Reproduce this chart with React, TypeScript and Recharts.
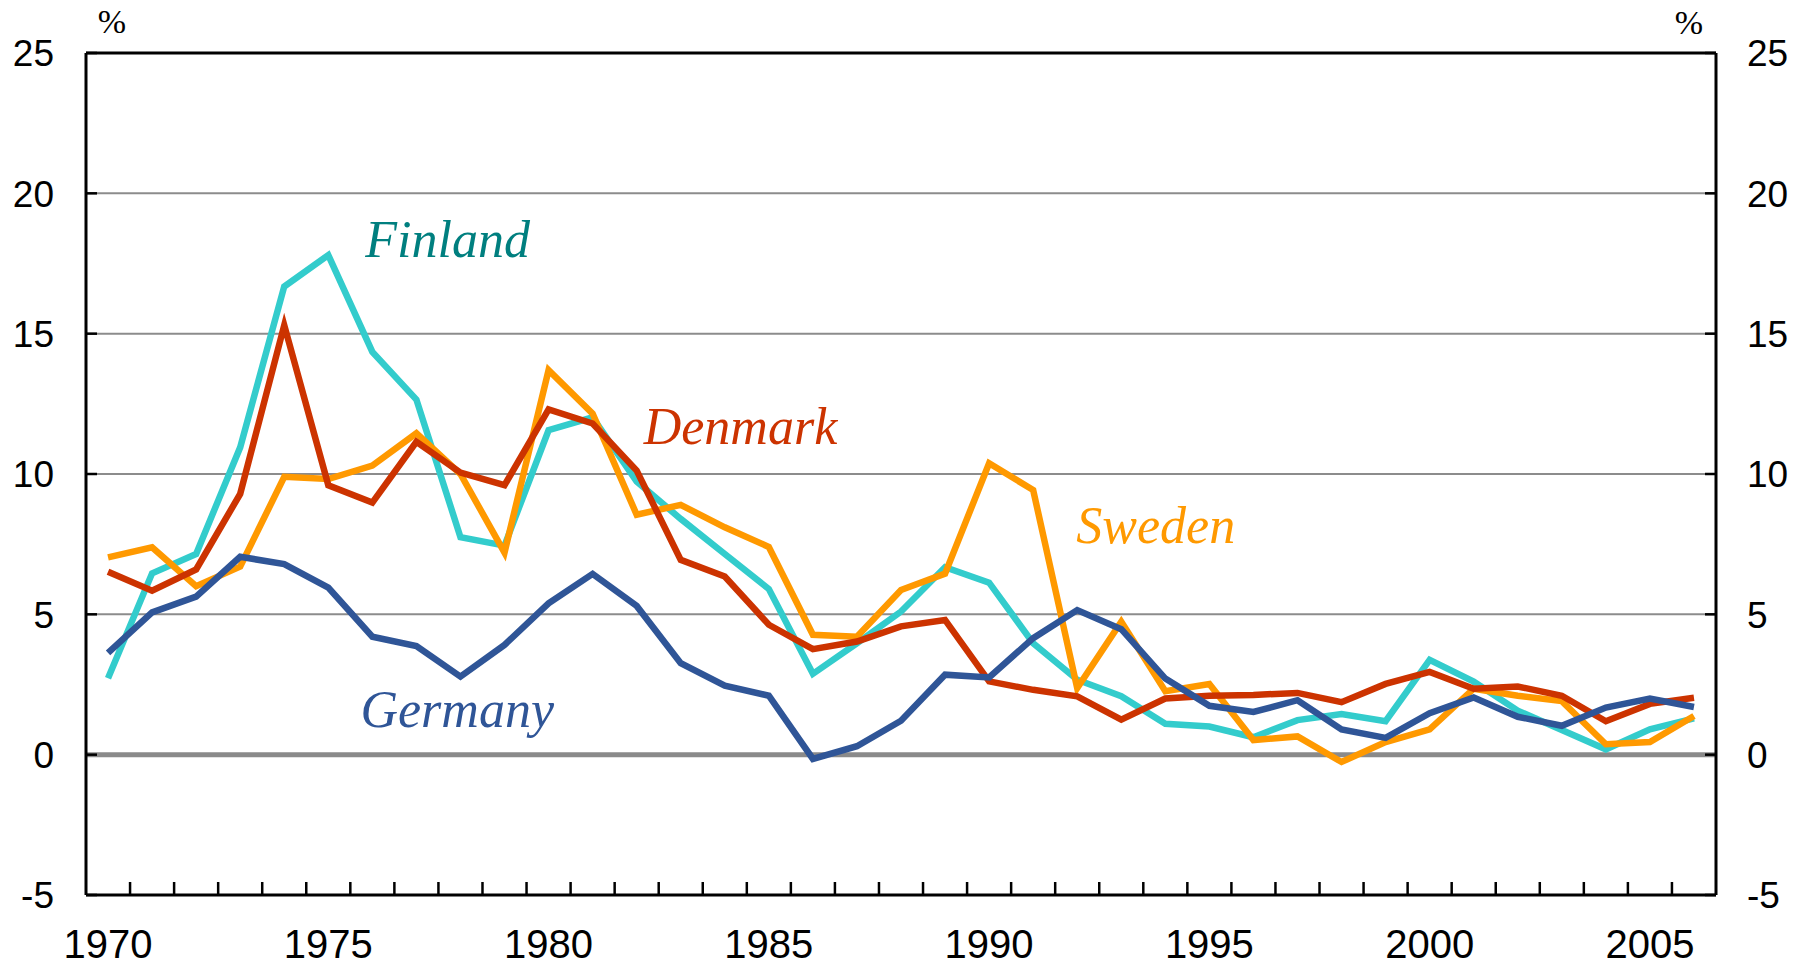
import React from 'react';
import {
  LineChart, Line, XAxis, YAxis, CartesianGrid, ReferenceLine, ReferenceDot
} from 'recharts';

// annual inflation, %
const years = [
  1970, 1971, 1972, 1973, 1974, 1975, 1976, 1977, 1978, 1979,
  1980, 1981, 1982, 1983, 1984, 1985, 1986, 1987, 1988, 1989,
  1990, 1991, 1992, 1993, 1994, 1995, 1996, 1997, 1998, 1999,
  2000, 2001, 2002, 2003, 2004, 2005, 2006,
];
const finland = [
  2.72, 6.46, 7.15, 10.95, 16.68, 17.8, 14.35, 12.65, 7.75, 7.45,
  11.56, 12.02, 9.73, 8.4, 7.15, 5.9, 2.88, 3.97, 5.1, 6.68,
  6.13, 3.97, 2.67, 2.08, 1.1, 1.0, 0.62, 1.23, 1.45, 1.19,
  3.38, 2.6, 1.57, 0.88, 0.19, 0.9, 1.29,
];
const denmark = [
  6.52, 5.84, 6.6, 9.29, 15.3, 9.6, 8.98, 11.15, 10.05, 9.6,
  12.3, 11.8, 10.12, 6.94, 6.35, 4.63, 3.76, 4.03, 4.57, 4.8,
  2.61, 2.31, 2.08, 1.25, 2.0, 2.1, 2.13, 2.2, 1.87, 2.52,
  2.95, 2.35, 2.43, 2.1, 1.19, 1.81, 2.03,
];
const sweden = [
  7.03, 7.39, 6.0, 6.7, 9.9, 9.82, 10.3, 11.45, 10.0, 7.2,
  13.7, 12.15, 8.55, 8.9, 8.1, 7.4, 4.27, 4.2, 5.87, 6.45,
  10.38, 9.43, 2.37, 4.74, 2.26, 2.52, 0.52, 0.65, -0.26, 0.45,
  0.9, 2.35, 2.1, 1.91, 0.37, 0.45, 1.38,
];
const germany = [
  3.63, 5.07, 5.63, 7.05, 6.79, 5.95, 4.2, 3.87, 2.78, 3.91,
  5.39, 6.44, 5.3, 3.26, 2.46, 2.1, -0.15, 0.3, 1.21, 2.85,
  2.75, 4.15, 5.15, 4.47, 2.71, 1.74, 1.52, 1.94, 0.9, 0.6,
  1.48, 2.04, 1.35, 1.03, 1.68, 2.0, 1.7,
];

const yTicks = [-5, 0, 5, 10, 15, 20, 25];
const yearLabels = [1970, 1975, 1980, 1985, 1990, 1995, 2000, 2005];

const data = years.map((year, i) => ({
  year,
  finland: finland[i],
  denmark: denmark[i],
  sweden: sweden[i],
  germany: germany[i],
}));

// tick marks sit between the years, labels on the years
const yearBounds = years.slice(0, -1).map(y => y + 0.5);
const xTicks = [...yearLabels, ...yearBounds].sort((a, b) => a - b);

const seriesLabels = [
  { name: 'Finland', year: 1975.84, value: 17.74, color: '#007f7f' },
  { name: 'Denmark', year: 1982.16, value: 11.07, color: '#cc3300' },
  { name: 'Sweden', year: 1991.98, value: 7.54, color: '#ff9900' },
  { name: 'Germany', year: 1975.73, value: 0.99, color: '#2f5597' },
];

const SANS = '"Liberation Sans", Arial, sans-serif';
const SERIF = '"Liberation Serif", "Times New Roman", serif';

const XTick = ({ x, y, payload }: any) => {
  if (Number.isInteger(payload.value)) {
    return (
      <text x={x} y={y + 63} textAnchor="middle" fontSize={40} fontFamily={SANS} fill="#000">
        {payload.value}
      </text>
    );
  }
  return <line x1={x} x2={x} y1={y} y2={y - 13} stroke="#000" strokeWidth={2.5} />;
};

const LeftTick = ({ x, y, payload }: any) => (
  <g>
    <line x1={x} x2={x + 11} y1={y} y2={y} stroke="#000" strokeWidth={2.5} />
    <text x={x - 32} y={y} dy="0.36em" textAnchor="end" fontSize={37} fontFamily={SANS} fill="#000">
      {payload.value}
    </text>
    {payload.value === 25 && (
      <text x={x + 26} y={y - 32} dy="0.36em" textAnchor="middle" fontSize={34} fontFamily={SERIF} fill="#000">%</text>
    )}
  </g>
);

const RightTick = ({ x, y, payload }: any) => (
  <g>
    <line x1={x} x2={x - 11} y1={y} y2={y} stroke="#000" strokeWidth={2.5} />
    <text x={x + 31} y={y} dy="0.36em" textAnchor="start" fontSize={37} fontFamily={SANS} fill="#000">
      {payload.value}
    </text>
    {payload.value === 25 && (
      <text x={x - 27} y={y - 31} dy="0.36em" textAnchor="middle" fontSize={34} fontFamily={SERIF} fill="#000">%</text>
    )}
  </g>
);

const App: React.FC = () => (
  <div style={{ width: 1800, height: 968, background: '#fff' }}>
    <style>{'body{margin:0}'}</style>
    <LineChart
      width={1800}
      height={968}
      data={data}
      margin={{ top: 53, right: 14, bottom: 13, left: 16 }}
    >
      <CartesianGrid yAxisId="left" vertical={false} stroke="#8c8c8c" strokeWidth={2} />
      <XAxis
        dataKey="year"
        type="number"
        domain={[1969.5, 2006.5]}
        ticks={xTicks}
        interval={0}
        height={60}
        tickSize={0}
        tickMargin={0}
        tickLine={false}
        axisLine={{ stroke: '#000', strokeWidth: 3 }}
        tick={<XTick />}
      />
      <YAxis
        yAxisId="left"
        domain={[-5, 25]}
        ticks={yTicks}
        interval={0}
        width={70}
        allowDataOverflow
        tickSize={0}
        tickMargin={0}
        tickLine={false}
        axisLine={{ stroke: '#000', strokeWidth: 3 }}
        tick={<LeftTick />}
      />
      <YAxis
        yAxisId="right"
        orientation="right"
        domain={[-5, 25]}
        ticks={yTicks}
        interval={0}
        width={70}
        allowDataOverflow
        tickSize={0}
        tickMargin={0}
        tickLine={false}
        axisLine={{ stroke: '#000', strokeWidth: 3 }}
        tick={<RightTick />}
      />
      <ReferenceLine yAxisId="left" y={25} stroke="#000" strokeWidth={3} />
      <ReferenceLine yAxisId="left" y={0} stroke="#8a8a8a" strokeWidth={5} />
      <Line yAxisId="left" dataKey="finland" stroke="#33cccc" strokeWidth={6.5} dot={false} isAnimationActive={false} strokeLinejoin="miter" />
      <Line yAxisId="left" dataKey="sweden" stroke="#ff9900" strokeWidth={6.5} dot={false} isAnimationActive={false} strokeLinejoin="miter" />
      <Line yAxisId="left" dataKey="denmark" stroke="#cc3300" strokeWidth={6.5} dot={false} isAnimationActive={false} strokeLinejoin="miter" />
      {/* same scale as the left axis; tying it here makes the right axis draw */}
      <Line yAxisId="right" dataKey="germany" stroke="#2f5597" strokeWidth={6.5} dot={false} isAnimationActive={false} strokeLinejoin="miter" />
      {seriesLabels.map(l => (
        <ReferenceDot
          key={l.name}
          yAxisId="left"
          x={l.year}
          y={l.value}
          r={0}
          fill="none"
          stroke="none"
          ifOverflow="visible"
          label={{
            content: (p: any) => (
              <text
                x={p.viewBox.x}
                y={p.viewBox.y}
                fill={l.color}
                fontSize={52}
                fontStyle="italic"
                fontFamily={SERIF}
              >
                {l.name}
              </text>
            ),
          }}
        />
      ))}
    </LineChart>
  </div>
);

export default App;
